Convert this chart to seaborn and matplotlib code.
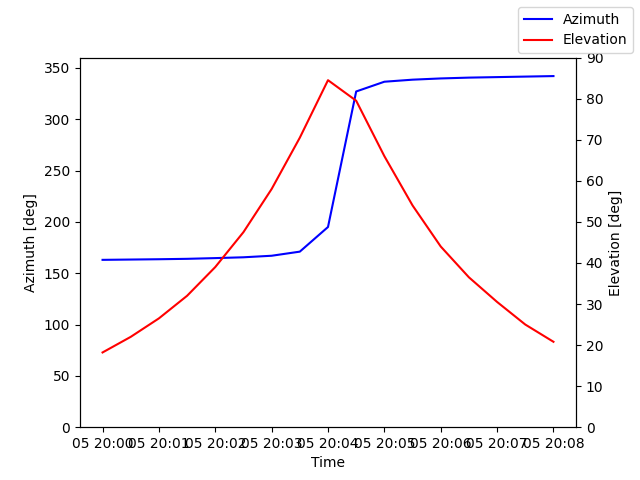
import matplotlib
matplotlib.use("Agg")
import matplotlib.pyplot as plt
import matplotlib.dates as mdates
import pandas as pd
import seaborn as sns

times = pd.date_range("2024-01-05 20:00:00", "2024-01-05 20:08:00", freq="30s")
azimuth = [163, 163.3, 163.6, 164, 164.7, 165.5, 167, 171, 195, 327,
           336.5, 338.5, 339.7, 340.5, 341, 341.5, 342]
elevation = [18.2, 22, 26.5, 32, 39, 47.5, 58, 70.5, 84.5, 79.5,
             66, 54, 44, 36.5, 30.5, 25, 20.8]

df = pd.DataFrame({"Time": times, "Azimuth": azimuth, "Elevation": elevation})

fig, ax1 = plt.subplots(figsize=(6.4, 4.8), dpi=100)
ax2 = ax1.twinx()
sns.lineplot(data=df, x="Time", y="Azimuth", color="blue", ax=ax1, label="Azimuth", legend=False)
sns.lineplot(data=df, x="Time", y="Elevation", color="red", ax=ax2, label="Elevation", legend=False)

ax1.set_ylim(0, 360)
ax2.set_ylim(0, 90)
ax1.set_ylabel("Azimuth [deg]")
ax2.set_ylabel("Elevation [deg]")
ax1.set_xlabel("Time")
ax1.xaxis.set_major_locator(mdates.MinuteLocator())
ax1.xaxis.set_major_formatter(mdates.DateFormatter("%d %H:%M"))

fig.legend(loc="upper right")
fig.savefig("out.png")
